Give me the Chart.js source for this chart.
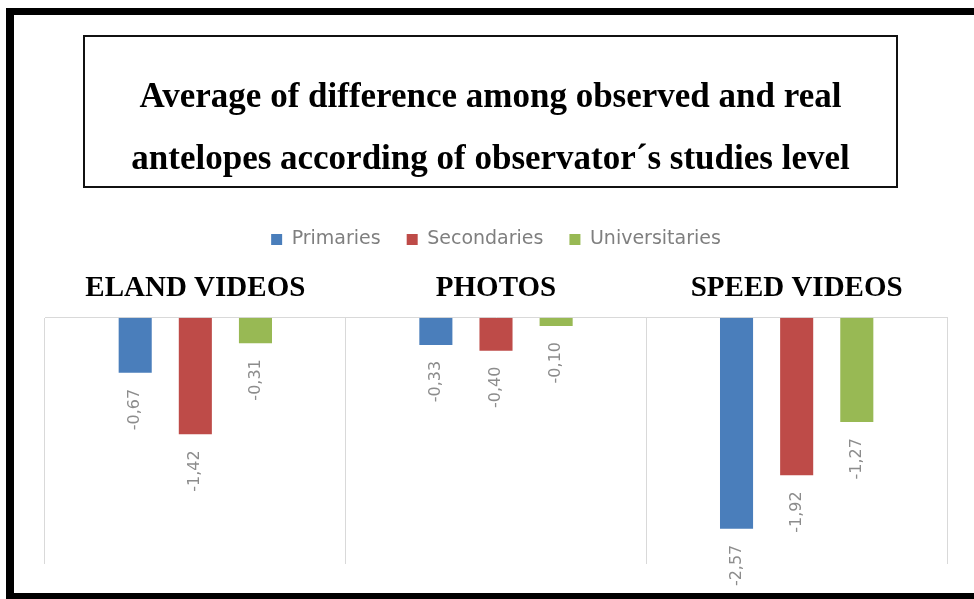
<!DOCTYPE html>
<html>
<head>
<meta charset="utf-8">
<script src="https://cdn.jsdelivr.net/npm/chart.js@4.4.1/dist/chart.umd.min.js"></script>
<style>
  html, body { margin: 0; padding: 0; background: #fff; overflow: hidden; }
  #wrap { position: relative; width: 974px; height: 599px; }
  #frame {
    position: absolute; left: 6px; top: 8px; width: 1000px; height: 591px;
    box-sizing: border-box;
    border-left: 8px solid #000; border-top: 7px solid #000; border-bottom: 6px solid #000;
    pointer-events: none;
  }
  #titleBox {
    position: absolute; left: 83px; top: 35px; width: 815px; height: 153px;
    box-sizing: border-box; border: 2px solid #111;
    font-family: "Liberation Serif", "Times New Roman", serif;
    font-weight: bold; font-size: 35px; color: #000; text-align: center;
    line-height: 62px; padding-top: 28px; white-space: nowrap;
  }
  canvas { position: absolute; left: 0; top: 0; }
</style>
</head>
<body>
<div id="wrap">
  <canvas id="chart" width="974" height="599"></canvas>
  <div id="titleBox">Average of difference among observed and real<br>antelopes according of observator´s studies level</div>
  <div id="frame"></div>
</div>
<script>
const categories = ['ELAND VIDEOS', 'PHOTOS', 'SPEED VIDEOS'];
const primaries = [-0.67, -0.33, -2.57];
const secondaries = [-1.42, -0.40, -1.92];
const universitaries = [-0.31, -0.10, -1.27];

// value labels below each bar end, rotated and with decimal comma
const barLabels = {
  id: 'barLabels',
  afterDatasetsDraw(chart) {
    const ctx = chart.ctx;
    ctx.save();
    ctx.font = '16px "DejaVu Sans", sans-serif';
    ctx.fillStyle = '#8c8c8c';
    chart.data.datasets.forEach((ds, i) => {
      chart.getDatasetMeta(i).data.forEach((bar, j) => {
        const txt = ds.data[j].toFixed(2).replace('.', ',');
        ctx.save();
        ctx.translate(bar.x, bar.y + 16);
        ctx.rotate(-Math.PI / 2);
        ctx.textAlign = 'right';
        ctx.textBaseline = 'middle';
        ctx.fillText(txt, 0, 0);
        ctx.restore();
      });
    });
    ctx.restore();
  }
};

new Chart(document.getElementById('chart').getContext('2d'), {
  type: 'bar',
  data: {
    labels: categories,
    datasets: [
      { label: 'Primaries', data: primaries, backgroundColor: '#4a7ebb' },
      { label: 'Secondaries', data: secondaries, backgroundColor: '#be4b48' },
      { label: 'Universitaries', data: universitaries, backgroundColor: '#98b954' }
    ]
  },
  options: {
    responsive: false,
    animation: false,
    layout: { padding: { top: 204, left: 45, right: 27, bottom: 35 } },
    datasets: { bar: { categoryPercentage: 0.6, barPercentage: 0.55 } },
    plugins: {
      legend: {
        position: 'top',
        labels: {
          font: { family: '"DejaVu Sans", sans-serif', size: 19 },
          color: '#7f7f7f',
          boxWidth: 11,
          boxHeight: 11,
          padding: 26
        }
      },
      tooltip: { enabled: false }
    },
    scales: {
      x: {
        position: 'top',
        grid: { color: '#d9d9d9', drawTicks: false },
        border: { color: '#d9d9d9' },
        ticks: {
          color: '#000',
          padding: 12,
          font: { family: '"Liberation Serif", serif', weight: 'bold', size: 29 }
        }
      },
      y: {
        display: false,
        min: -3,
        max: 0
      }
    }
  },
  plugins: [barLabels]
});
</script>
</body>
</html>
